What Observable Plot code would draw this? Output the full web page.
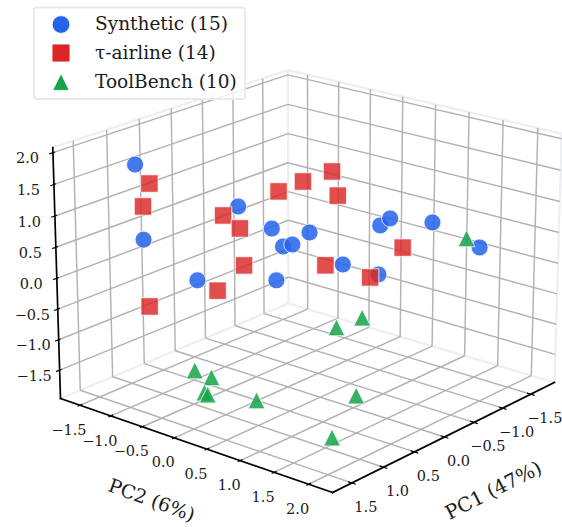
<!DOCTYPE html>
<html><head><meta charset="utf-8">
<script src="https://cdn.jsdelivr.net/npm/d3@7"></script>
<script src="https://cdn.jsdelivr.net/npm/@observablehq/plot@0.6"></script>
<style>html,body{margin:0;padding:0;background:#fff}svg{display:block}</style>
</head><body><div id="chart"></div>
<script>
// PCA scores: [PC1, PC2, PC3]
const synPC1 = [1.24,1.61,0.20,-0.09,-0.03,-0.14,-0.40,1.04,0.09,-0.74,-0.89,-1.06,-1.15,-0.86,-0.55];
const synPC2 = [-1.12,-0.62,-0.57,-0.33,-0.10,-0.06,-0.04,-0.38,-0.09,0.16,0.57,0.44,0.51,1.39,2.33];
const synPC3 = [1.8,0.9,0.9,0.5,0.3,0.3,0.4,0.1,-0.2,-0.2,-0.3,0.4,0.5,0.8,0.8];
const airPC1 = [1.45,1.58,0.52,0.42,-0.14,-0.56,-0.86,-0.75,0.39,0.86,1.92,-0.60,-0.76,-0.81];
const airPC2 = [-0.68,-0.65,-0.49,-0.33,-0.27,-0.29,-0.12,0.07,-0.30,-0.25,-0.22,0.02,0.56,1.00];
const airPC3 = [1.7,1.4,0.9,0.7,1.1,1.1,1.2,0.9,0.1,-0.1,0.1,-0.2,-0.3,0.3];
const toolPC1 = [-0.53,1.14,1.17,1.40,1.42,1.09,-0.91,-1.32,0.33,1.21];
const toolPC2 = [2.16,-0.34,-0.05,0.07,0.14,0.56,-0.09,-0.06,1.34,1.79];
const toolPC3 = [0.9,-1.3,-1.3,-1.4,-1.4,-1.5,-1.4,-1.4,-1.5,-1.6];
const pc1Ticks = [-1.5,-1,-0.5,0,0.5,1,1.5];
const pc2Ticks = [-1.5,-1,-0.5,0,0.5,1,1.5,2];
const pc3Ticks = [-1.5,-1,-0.5,0,0.5,1,1.5,2];
const legendLabels = ["Synthetic (15)","τ-airline (14)","ToolBench (10)"];

// Axis limits and perspective camera of the 3D view
const L1 = [-1.93,1.8], L2 = [-1.82,2.34], L3 = [-1.97,2.08];
function project(p1,p2,p3){
  const u=(L1[1]-p1)/(L1[1]-L1[0]), v=(L2[1]-p2)/(L2[1]-L2[0]), w=(p3-L3[0])/(L3[1]-L3[0]);
  const d=0.0922*u+0.0812*v-0.032*w+1;
  return [(273.07*u-267.13*v-10*w+332)/d, (-74.8*u-61.7*v-276*w+492)/d];
}
const seg=(a,b)=>{const p=project(...a),q=project(...b);return {x1:p[0],y1:p[1],x2:q[0],y2:q[1]};};
const [x1,x2]=L1,[y1,y2]=L2,[z1,z2]=L3;

const grid=[];
for(const t of pc1Ticks){grid.push(seg([t,y2,z1],[t,y1,z1]),seg([t,y1,z1],[t,y1,z2]));}
for(const t of pc2Ticks){grid.push(seg([x2,t,z1],[x1,t,z1]),seg([x1,t,z1],[x1,t,z2]));}
for(const t of pc3Ticks){grid.push(seg([x2,y1,t],[x1,y1,t]),seg([x1,y1,t],[x1,y2,t]));}
const paneEdges=[
 seg([x2,y1,z1],[x1,y1,z1]),seg([x1,y1,z1],[x1,y2,z1]),seg([x1,y1,z1],[x1,y1,z2]),
 seg([x2,y1,z2],[x1,y1,z2]),seg([x1,y1,z2],[x1,y2,z2]),seg([x1,y2,z1],[x1,y2,z2]),
 seg([x2,y1,z1],[x2,y2,z1]),seg([x2,y2,z1],[x1,y2,z1])];
const axes=[seg([x2,y1,z1],[x2,y1,z2]),seg([x2,y1,z1],[x2,y2,z1]),seg([x2,y2,z1],[x1,y2,z1])];
const du=0.06, dv=0.055;
const ticks=[
 ...pc3Ticks.map(t=>seg([x2+du*0.9,y1,t],[x2-du*0.5,y1,t])),
 ...pc2Ticks.map(t=>seg([x2+du*0.6,t,z1],[x2-du*0.6,t,z1])),
 ...pc1Ticks.map(t=>seg([t,y2+dv,z1],[t,y2-dv,z1]))];
const fmt=t=>(t<0?"\u2212":"")+Math.abs(t).toFixed(1);
const lab=(t,p)=>{const q=project(...p);return {x:q[0],y:q[1],text:fmt(t)};};
const lab3=pc3Ticks.map(t=>lab(t,[x2,y1,t]));
const lab2=pc2Ticks.map(t=>lab(t,[x2,t,z1]));
const lab1=pc1Ticks.map(t=>lab(t,[t,y2,z1]));

const cloud=(a,b,c)=>a.map((v,i)=>{const q=project(v,b[i],c[i]);return {x:q[0],y:q[1]};});
const syn=cloud(synPC1,synPC2,synPC3), air=cloud(airPC1,airPC2,airPC3), tool=cloud(toolPC1,toolPC2,toolPC3);

const tri={draw(ctx,size){const r=Math.sqrt(size/Math.PI);ctx.moveTo(0,-r);ctx.lineTo(r,r);ctx.lineTo(-r,r);ctx.closePath();}};
const sq={draw(ctx,size){const r=Math.sqrt(size/Math.PI);ctx.rect(-r,-r,2*r,2*r);}};
const BLUE="#2563eb",RED="#dc2626",GREEN="#16a34a",FONT="DejaVu Serif";
const rCirc=8.5,rSq=8.7,rTri=8.4;
const mk=(data,symbol,r,fill,op)=>Plot.dot(data,{x:"x",y:"y",symbol,r,fill,fillOpacity:op,stroke:"#fff",strokeOpacity:0.85,strokeWidth:0.9});
const legendRows=legendLabels.map((text,i)=>({text,x:94.5,mx:60.5,y:[24,52.5,81.5][i]}));

const chart=Plot.plot({
 width:562,height:527,margin:0,
 x:{domain:[0,562],range:[0,562],axis:null},
 y:{domain:[0,527],range:[0,527],axis:null},
 style:{fontFamily:FONT,background:"#fff",overflow:"visible"},
 marks:[
  Plot.link(paneEdges,{x1:"x1",y1:"y1",x2:"x2",y2:"y2",stroke:"#eceef3",strokeWidth:2.2}),
  Plot.link(grid,{x1:"x1",y1:"y1",x2:"x2",y2:"y2",stroke:"#b2b2b2",strokeWidth:1.45}),
  Plot.link(axes,{x1:"x1",y1:"y1",x2:"x2",y2:"y2",stroke:"#000",strokeWidth:1.7,strokeLinecap:"square"}),
  Plot.link(ticks,{x1:"x1",y1:"y1",x2:"x2",y2:"y2",stroke:"#000",strokeWidth:1.2}),
  Plot.text(lab3,{x:"x",y:"y",text:"text",dx:-25.5,dy:6,fontSize:14.5,fill:"#1a1a1a",textAnchor:"middle"}),
  Plot.text(lab2,{x:"x",y:"y",text:"text",dx:-11,dy:25,fontSize:14.5,fill:"#1a1a1a",textAnchor:"middle"}),
  Plot.text(lab1,{x:"x",y:"y",text:"text",dx:14,dy:24,fontSize:14.5,fill:"#1a1a1a",textAnchor:"middle"}),
  Plot.text(["PC2 (6%)"],{x:()=>151,y:()=>500,text:d=>d,rotate:20,fontSize:19,fill:"#1a1a1a",textAnchor:"middle"}),
  Plot.text(["PC1 (47%)"],{x:()=>493,y:()=>490,text:d=>d,rotate:-27,fontSize:19.5,fill:"#1a1a1a",textAnchor:"middle"}),
  mk(syn,"circle",rCirc,BLUE,0.85),
  mk(air,sq,rSq,RED,0.82),
  mk(tool,tri,rTri,GREEN,0.85),
  Plot.rect([0],{x1:()=>34,x2:()=>245,y1:()=>7.5,y2:()=>99,rx:3,fill:"#fff",fillOpacity:0.8,stroke:"#e8eaf0",strokeWidth:2}),
  Plot.dot(legendRows.slice(0,1),{x:"mx",y:"y",symbol:"circle",r:8.9,fill:BLUE,stroke:"#fff",strokeWidth:0.9}),
  Plot.dot(legendRows.slice(1,2),{x:"mx",y:"y",symbol:sq,r:9,fill:RED,stroke:"#fff",strokeWidth:0.9}),
  Plot.dot(legendRows.slice(2,3),{x:"mx",y:"y",symbol:tri,r:8.4,fill:GREEN,stroke:"#fff",strokeWidth:0.9}),
  Plot.text(legendRows,{x:"x",y:"y",text:"text",fontSize:18.5,fill:"#1a1a1a",textAnchor:"start"})
 ]
});
document.getElementById("chart").append(chart);
</script></body></html>
